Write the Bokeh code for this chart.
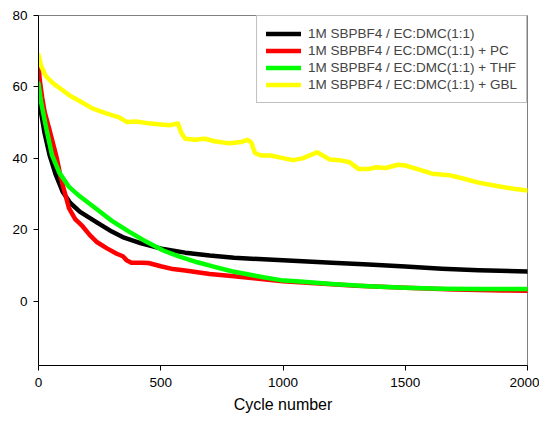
from bokeh.plotting import figure
from bokeh.models import Range1d, Legend, LegendItem, FixedTicker
from bokeh.embed import file_html
from bokeh.resources import INLINE

# ---- data ----
black_x = [0, 10, 25, 45, 70, 100, 130, 170, 240, 300, 350, 420, 510, 600, 700, 800, 900,
           1000, 1100, 1200, 1350, 1500, 1650, 1800, 2000]
black_y = [57, 53, 47, 41, 35.5, 30.5, 27.5, 25, 22, 19.5, 17.8, 16.2, 14.6, 13.6, 12.8, 12.2, 11.8,
           11.5, 11.1, 10.8, 10.3, 9.7, 9.1, 8.7, 8.3]

red_x = [0, 5, 15, 25, 45, 60, 75, 90, 105, 125, 150, 180, 210, 240, 280, 320, 345, 360, 380,
         420, 450, 500, 550, 600, 650, 700, 800, 900, 1000, 1100, 1300, 1500, 1700, 1900, 2000]
red_y = [67, 62, 57, 53, 48, 44, 40, 35, 31, 26, 23, 21, 18.5, 16.5, 14.8, 13.3, 12.6, 11.5, 10.8,
         10.8, 10.7, 9.8, 9, 8.6, 8.1, 7.6, 7, 6.3, 5.6, 5.2, 4.3, 3.8, 3.3, 3.0, 2.9]

green_x = [0, 10, 30, 55, 85, 125, 170, 240, 300, 370, 440, 510, 580, 650, 720, 790, 860, 920,
           990, 1070, 1200, 1350, 1500, 1650, 1800, 2000]
green_y = [61, 56, 49, 41, 36, 32, 29.3, 25.7, 22.5, 19.5, 16.7, 14.2, 12.4, 10.9, 9.6, 8.4, 7.5, 6.7,
           5.9, 5.5, 4.8, 4.2, 3.8, 3.5, 3.4, 3.4]

yellow_x = [0, 10, 30, 60, 90, 130, 170, 220, 280, 330, 360, 400, 450, 500, 540, 570, 585, 600,
            640, 680, 720, 780, 830, 855, 870, 885, 910, 950, 990, 1040, 1080, 1140, 1190, 1230,
            1270, 1310, 1350, 1380, 1420, 1470, 1500, 1550, 1610, 1680, 1740, 1800, 1880, 1950, 2000]
yellow_y = [69, 66, 63, 61, 59.5, 57.5, 56, 54, 52.5, 51.5, 50.2, 50.3, 49.8, 49.5, 49.3, 49.8, 47, 45.5,
            45.2, 45.5, 44.8, 44.2, 44.6, 45.2, 44.5, 41.5, 40.8, 40.8, 40.2, 39.5, 40, 41.7, 39.7, 39.5,
            39, 37, 37, 37.5, 37.3, 38.2, 38, 37, 35.7, 35.3, 34.3, 33.2, 32.2, 31.4, 31]

labels = ["1M SBPBF4 / EC:DMC(1:1)",
          "1M SBPBF4 / EC:DMC(1:1) + PC",
          "1M SBPBF4 / EC:DMC(1:1) + THF",
          "1M SBPBF4 / EC:DMC(1:1) + GBL"]
x_ticks = [0, 500, 1000, 1500, 2000]
y_ticks = [0, 20, 40, 60, 80]

FONT = "Liberation Sans"

p = figure(width=539, height=415, output_backend="svg", toolbar_location=None,
           x_range=Range1d(0, 2000), y_range=Range1d(-18, 80),
           min_border_left=38, min_border_right=12, min_border_top=15, min_border_bottom=48)
p.background_fill_color = "white"
p.border_fill_color = "white"
p.outline_line_color = "#808080"
p.outline_line_width = 1
p.xgrid.visible = False
p.ygrid.visible = False

series = [(black_x, black_y, "black"), (red_x, red_y, "#ff0000"),
          (green_x, green_y, "#00ff00"), (yellow_x, yellow_y, "#ffff00")]
renderers = []
for xs, ys, c in series:
    r = p.line(xs, ys, line_color=c, line_width=4.5, line_join="round", line_cap="round")
    renderers.append(r)

for ax in (p.xaxis[0], p.yaxis[0]):
    ax.axis_line_color = "black"
    ax.axis_line_width = 1
    ax.major_tick_line_color = "black"
    ax.major_tick_out = 5
    ax.major_tick_in = 0
    ax.minor_tick_line_color = None
    ax.major_label_text_font = FONT
    ax.major_label_text_font_size = "13.5px"
    ax.major_label_text_color = "black"

p.xaxis[0].ticker = FixedTicker(ticks=x_ticks)
p.yaxis[0].ticker = FixedTicker(ticks=y_ticks)
p.xaxis[0].major_label_standoff = 7
p.yaxis[0].major_label_standoff = 6
p.xaxis[0].axis_label = "Cycle number"
p.xaxis[0].axis_label_text_font = FONT
p.xaxis[0].axis_label_text_font_size = "16px"
p.xaxis[0].axis_label_text_font_style = "normal"
p.xaxis[0].axis_label_text_color = "black"
p.xaxis[0].axis_label_standoff = 6

legend = Legend(items=[LegendItem(label=l, renderers=[r]) for l, r in zip(labels, renderers)],
                location="top_right", margin=0, padding=9, spacing=0,
                label_text_font=FONT, label_text_font_size="13.5px",
                label_height=17, glyph_height=17, glyph_width=35, label_standoff=7,
                border_line_color="#808080", border_line_width=1,
                background_fill_color="white", background_fill_alpha=1)
p.add_layout(legend, "center")

open("out.html", "w").write(file_html(p, INLINE))
